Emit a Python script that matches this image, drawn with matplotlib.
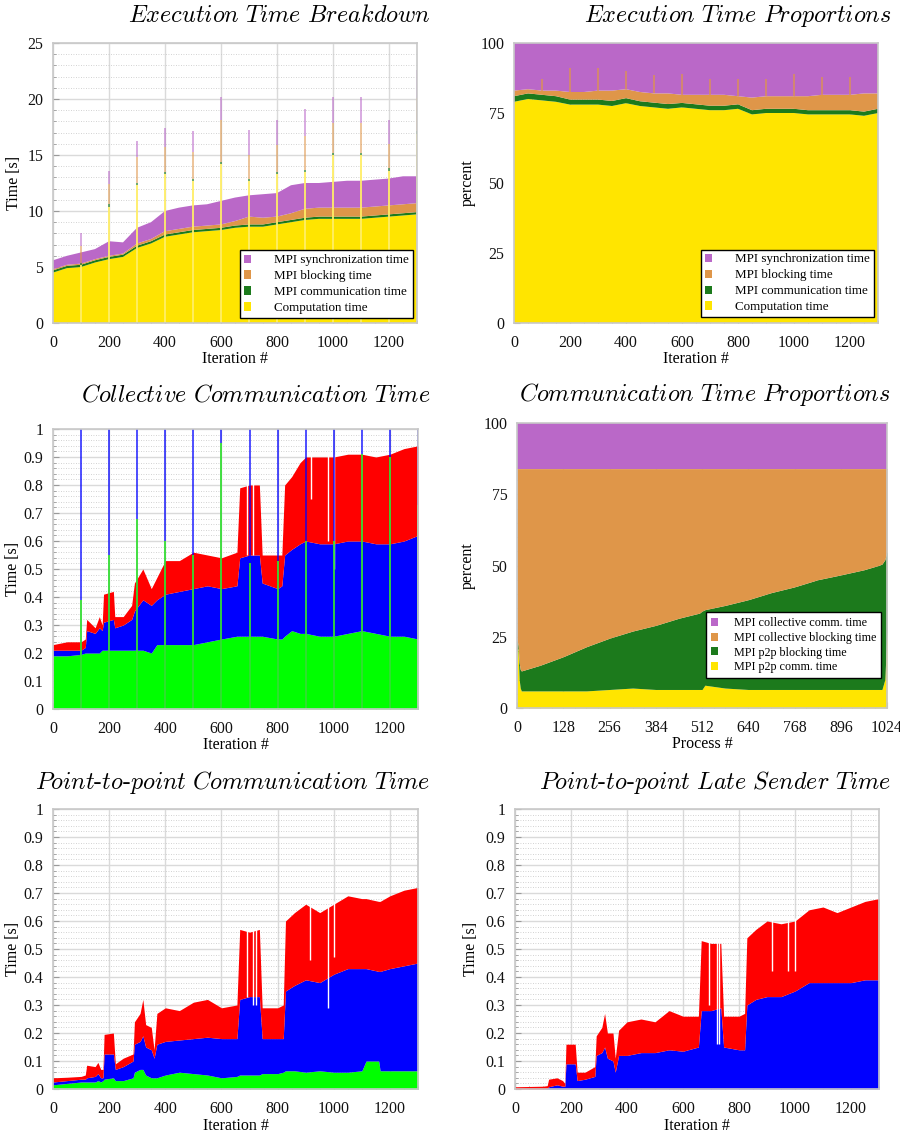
import numpy as np
import matplotlib
matplotlib.use("Agg")
import matplotlib.pyplot as plt
from matplotlib.patches import Patch
from matplotlib.ticker import MultipleLocator, FormatStrFormatter

plt.rcParams['font.family'] = ['Liberation Serif', 'DejaVu Serif']
plt.rcParams['mathtext.fontset'] = 'cm'

# ---------------- data ----------------
# Execution time breakdown (seconds), sampled every 50 iterations
exec_iter = [0, 50, 100, 150, 200, 250, 300, 350, 400, 450, 500, 550, 600, 650,
             700, 750, 800, 850, 900, 950, 1000, 1050, 1100, 1150, 1200, 1250, 1300]
exec_comp = [4.5, 4.9, 5.0, 5.4, 5.7, 5.9, 6.7, 7.1, 7.7, 7.9, 8.1, 8.2, 8.3, 8.5,
             8.6, 8.6, 8.8, 9.0, 9.2, 9.3, 9.3, 9.3, 9.3, 9.4, 9.5, 9.6, 9.7]
exec_comm = [0.2, 0.2, 0.2, 0.2, 0.2, 0.2, 0.2, 0.2, 0.2, 0.2, 0.2, 0.2, 0.2, 0.2,
             0.2, 0.2, 0.2, 0.2, 0.2, 0.2, 0.2, 0.2, 0.2, 0.2, 0.2, 0.2, 0.2]
exec_block = [0.1, 0.1, 0.1, 0.1, 0.1, 0.1, 0.2, 0.2, 0.3, 0.3, 0.3, 0.3, 0.3, 0.4,
              0.7, 0.6, 0.5, 0.6, 0.8, 0.8, 0.8, 0.8, 0.8, 0.8, 0.8, 0.8, 0.8]
exec_sync = [0.8, 0.8, 1.0, 0.9, 1.3, 1.0, 1.4, 1.5, 1.8, 1.9, 1.9, 1.9, 2.1, 2.1,
             1.9, 2.1, 2.1, 2.5, 2.3, 2.2, 2.3, 2.4, 2.4, 2.4, 2.4, 2.5, 2.4]

# slow iterations every 100 steps
spike_iter = [100, 200, 300, 400, 500, 600, 700, 800, 900, 1000, 1100, 1200, 1300]
spike_comp = [5.2, 10.4, 12.3, 13.3, 12.7, 14.2, 12.7, 13.3, 13.5, 15.0, 15.0, 13.6, 16.9]
spike_comm = [0.2, 0.2, 0.2, 0.2, 0.2, 0.2, 0.2, 0.2, 0.2, 0.2, 0.2, 0.2, 0.2]
spike_block = [1.5, 1.8, 2.3, 2.2, 2.4, 3.7, 2.1, 2.4, 3.0, 2.7, 2.7, 2.2, 3.0]
spike_sync = [1.1, 1.2, 1.45, 1.7, 1.8, 2.1, 2.2, 2.2, 2.4, 2.3, 2.3, 2.1, 2.5]

# Execution time proportions (percent)
prop_comp = [79, 80, 79.5, 79, 78, 78, 78, 77.5, 78.5, 77.5, 77, 76.5, 77, 76.5,
             76, 76, 76.5, 74.5, 75, 75, 75, 74.5, 74.5, 74.5, 74.5, 74, 75]
prop_comm = [2.0, 2.0, 2.0, 2.0, 1.8, 1.8, 1.8, 1.8, 1.8, 1.7, 1.7, 1.7, 1.6, 1.6,
             1.6, 1.6, 1.6, 1.5, 1.5, 1.5, 1.5, 1.5, 1.5, 1.5, 1.5, 1.5, 1.5]
prop_block = [2.0, 1.5, 1.5, 2.0, 2.7, 2.7, 3.2, 3.7, 3.2, 3.3, 3.3, 3.8, 2.9, 3.4,
              3.9, 3.9, 2.9, 4.5, 4.5, 4.5, 4.5, 5.0, 5.5, 5.5, 5.5, 6.5, 5.5]
prop_sync = [17, 16.5, 17, 17, 17.5, 17.5, 17, 17, 16.5, 17.5, 18, 18, 18.5, 18.5,
             18.5, 18.5, 19, 19.5, 19, 19, 19, 19, 18.5, 18.5, 18.5, 18, 18]
prop_spike_top = [87, 91, 91, 90, 88.5, 89, 87, 87, 87, 89, 88, 88, 89]

# Collective communication time (upper edge of each layer, seconds)
coll_iter = [0, 50, 100, 115, 120, 150, 165, 175, 180, 215, 220, 250, 280, 290, 320,
             350, 370, 400, 450, 500, 550, 600, 655, 665, 700, 735, 745, 800, 815, 825,
             850, 880, 900, 950, 1000, 1050, 1100, 1150, 1200, 1250, 1300]
coll_green = [0.19, 0.19, 0.195, 0.20, 0.20, 0.20, 0.20, 0.21, 0.21, 0.21, 0.21, 0.21,
              0.21, 0.21, 0.21, 0.20, 0.23, 0.23, 0.23, 0.23, 0.24, 0.25, 0.26, 0.26,
              0.26, 0.26, 0.26, 0.25, 0.25, 0.26, 0.28, 0.27, 0.27, 0.26, 0.26, 0.27,
              0.28, 0.27, 0.26, 0.26, 0.25]
coll_blue = [0.21, 0.21, 0.21, 0.22, 0.28, 0.27, 0.29, 0.28, 0.31, 0.32, 0.29, 0.30,
             0.32, 0.35, 0.39, 0.37, 0.39, 0.41, 0.42, 0.43, 0.44, 0.43, 0.44, 0.54,
             0.55, 0.55, 0.45, 0.43, 0.44, 0.55, 0.57, 0.59, 0.60, 0.59, 0.59, 0.60,
             0.60, 0.59, 0.59, 0.60, 0.62]
coll_red = [0.23, 0.24, 0.24, 0.25, 0.32, 0.29, 0.33, 0.30, 0.41, 0.42, 0.33, 0.33,
            0.37, 0.45, 0.50, 0.43, 0.47, 0.53, 0.53, 0.56, 0.55, 0.54, 0.56, 0.79,
            0.80, 0.80, 0.55, 0.55, 0.55, 0.80, 0.83, 0.88, 0.90, 0.90, 0.90, 0.91,
            0.91, 0.90, 0.91, 0.93, 0.94]
coll_spike_green = [0.39, 0.55, 0.68, 0.60, 0.55, 0.95, 0.52, 0.53, 0.60, 0.60, 0.91, 0.90, 0.73]
# single iterations that fall well below their neighbours
coll_dip_iter = [692, 712, 920, 980, 1000]
coll_dip_value = [0.55, 0.55, 0.75, 0.60, 0.50]

# Communication time proportions per process (upper edge of each layer, percent)
proc_id = [0, 3, 6, 9, 12, 64, 128, 192, 256, 320, 384, 448, 505, 512, 520, 576,
           640, 704, 768, 832, 896, 960, 1000, 1010, 1018, 1024]
proc_p2p_comm = [20, 21, 10, 7, 6, 6, 6, 6, 6.5, 7, 6.5, 6.5, 6.5, 6.5, 8, 7,
                 6.5, 6.5, 6.5, 6.5, 6.5, 6.5, 6.5, 6.5, 10, 27]
proc_p2p_block = [24, 22, 16, 13.5, 13, 15, 18, 21.5, 24.5, 27, 29, 31.5, 33.3, 34,
                  34.5, 36, 38, 40.5, 42.5, 45, 46.7, 48.5, 50, 50.5, 52, 55]
proc_coll_block = [84, 84, 84, 84, 84, 84, 84, 84, 84, 84, 84, 84, 84, 84,
                   84, 84, 84, 84, 84, 84, 84, 84, 84, 84, 84, 84]

# Point-to-point communication time (upper edges, seconds)
p2p_iter = [0, 50, 100, 115, 120, 150, 160, 170, 178, 182, 215, 222, 250, 285, 290,
            310, 320, 330, 350, 360, 370, 400, 450, 500, 550, 600, 655, 665, 700,
            735, 745, 800, 820, 828, 860, 900, 950, 1000, 1050, 1100, 1115, 1160,
            1165, 1200, 1250, 1300]
p2p_green = [0.015, 0.020, 0.025, 0.025, 0.025, 0.025, 0.030, 0.025, 0.030, 0.035,
             0.040, 0.030, 0.030, 0.040, 0.060, 0.070, 0.070, 0.050, 0.040, 0.040,
             0.040, 0.050, 0.060, 0.055, 0.050, 0.040, 0.045, 0.050, 0.050, 0.050,
             0.055, 0.055, 0.060, 0.065, 0.065, 0.060, 0.065, 0.060, 0.060, 0.065,
             0.100, 0.100, 0.065, 0.065, 0.065, 0.065]
p2p_blue = [0.025, 0.030, 0.035, 0.035, 0.040, 0.045, 0.055, 0.040, 0.040, 0.125,
            0.125, 0.070, 0.080, 0.100, 0.160, 0.170, 0.190, 0.150, 0.140, 0.110,
            0.160, 0.170, 0.175, 0.180, 0.185, 0.180, 0.180, 0.320, 0.330, 0.330,
            0.180, 0.180, 0.180, 0.350, 0.370, 0.390, 0.380, 0.410, 0.430, 0.430,
            0.430, 0.420, 0.420, 0.430, 0.440, 0.450]
p2p_red = [0.040, 0.042, 0.045, 0.050, 0.085, 0.080, 0.095, 0.070, 0.070, 0.195,
           0.200, 0.090, 0.110, 0.125, 0.240, 0.270, 0.320, 0.230, 0.220, 0.140,
           0.270, 0.290, 0.280, 0.310, 0.320, 0.290, 0.300, 0.570, 0.560, 0.570,
           0.290, 0.290, 0.300, 0.600, 0.630, 0.660, 0.630, 0.660, 0.690, 0.680,
           0.680, 0.670, 0.670, 0.690, 0.710, 0.720]
p2p_dip_iter = [692, 712, 722, 916, 979, 1000]
p2p_dip_value = [0.33, 0.30, 0.30, 0.46, 0.29, 0.47]

# Point-to-point late sender time (upper edges, seconds)
ls_iter = [0, 100, 115, 120, 150, 170, 178, 182, 215, 222, 250, 285, 290, 310, 320,
           330, 350, 358, 370, 400, 450, 500, 550, 600, 655, 665, 700, 735, 745, 800,
           820, 828, 860, 900, 950, 1000, 1050, 1100, 1150, 1200, 1250, 1300]
ls_blue = [0.000, 0.000, 0.002, 0.008, 0.015, 0.010, 0.010, 0.090, 0.090, 0.030,
           0.035, 0.045, 0.120, 0.130, 0.150, 0.110, 0.100, 0.060, 0.120, 0.120,
           0.130, 0.130, 0.140, 0.135, 0.150, 0.280, 0.280, 0.290, 0.150, 0.140,
           0.140, 0.300, 0.320, 0.330, 0.330, 0.350, 0.380, 0.380, 0.380, 0.380,
           0.390, 0.390]
ls_red = [0.008, 0.010, 0.012, 0.035, 0.040, 0.030, 0.020, 0.160, 0.160, 0.060,
          0.060, 0.080, 0.190, 0.220, 0.270, 0.200, 0.200, 0.110, 0.210, 0.240,
          0.250, 0.240, 0.280, 0.260, 0.260, 0.530, 0.520, 0.520, 0.260, 0.260,
          0.270, 0.540, 0.570, 0.600, 0.590, 0.600, 0.640, 0.650, 0.630, 0.650,
          0.670, 0.680]
ls_dip_iter = [693, 720, 729, 919, 975, 999]
ls_dip_value = [0.30, 0.16, 0.16, 0.42, 0.42, 0.42]

# ---------------- styling ----------------
YELLOW = '#ffe500'
DGREEN = '#1c7a1c'
ORANGE = '#df9649'
PURPLE = '#ba68c8'
RED = '#ff0000'
BLUE = '#0000ff'
GREEN = '#00ff00'
LABEL_SIZE = 11.5


def style_axes(ax, xmax, xmajor, xminor, ymax, ymajor, yminor, yfmt=None):
    ax.set_xlim(0, xmax)
    ax.set_ylim(0, ymax)
    ax.xaxis.set_major_locator(MultipleLocator(xmajor))
    ax.xaxis.set_minor_locator(MultipleLocator(xminor))
    ax.yaxis.set_major_locator(MultipleLocator(ymajor))
    ax.yaxis.set_minor_locator(MultipleLocator(yminor))
    if yfmt:
        ax.yaxis.set_major_formatter(FormatStrFormatter(yfmt))
    ax.set_axisbelow(True)
    ax.grid(True, which='major', color='#dadada', lw=1.0)
    ax.grid(True, which='minor', axis='y', color='#c4c4c4', lw=0.6, ls=(0, (1, 2)))
    for s in ax.spines.values():
        s.set_color('#c8c8c8')
        s.set_linewidth(1.2)
    ax.tick_params(which='both', direction='in', color='#9a9a9a', labelsize=11.4,
                   labelcolor='#111111')
    ax.tick_params(axis='x', which='both', pad=8.5)
    ax.tick_params(axis='y', which='both', pad=7)
    ax.tick_params(which='major', length=4)
    ax.tick_params(which='minor', length=2.5)


def add_legend(ax, labels, colors, anchor, size, textpad, spacing, pad):
    handles = [Patch(facecolor=c, edgecolor='none') for c in colors]
    leg = ax.legend(handles, labels, loc='lower right', bbox_to_anchor=anchor,
                    borderaxespad=0, fontsize=size, handlelength=0.6, handleheight=0.6,
                    handletextpad=textpad, labelspacing=spacing, fancybox=False,
                    framealpha=1, edgecolor='black', borderpad=pad)
    leg.get_frame().set_linewidth(1.0)


def draw_dips(ax, x, top, dip_x, dip_v):
    # iterations whose total is far below the neighbouring ones
    ax.vlines(dip_x, dip_v, np.interp(dip_x, x, top) + 0.01, color='white', lw=1.0)


def title(x, y, text):
    fig.text(x / 900, 1 - y / 1135, text, ha='right', va='center', fontsize=17.4)


fig = plt.figure(figsize=(9, 11.35), dpi=100)

# ---- Execution Time Breakdown ----
ax1 = fig.add_axes([53 / 900, 1 - 323 / 1135, 364 / 900, 280 / 1135])
ax1.stackplot(exec_iter, exec_comp, exec_comm, exec_block, exec_sync,
              colors=[YELLOW, DGREEN, ORANGE, PURPLE], lw=0)
b0 = np.array(spike_comp)
b1 = b0 + np.array(spike_comm)
b2 = b1 + np.array(spike_block)
b3 = b2 + np.array(spike_sync)
ax1.vlines(spike_iter, 0, b0, color='#ffee66', lw=1.3)
ax1.vlines(spike_iter, b0, b1, color=DGREEN, lw=1.3, alpha=0.7)
ax1.vlines(spike_iter, b1, b2, color=ORANGE, lw=1.3, alpha=0.6)
ax1.vlines(spike_iter, b2, b3, color=PURPLE, lw=1.3, alpha=0.6)
style_axes(ax1, 1300, 200, 50, 25, 5, 1)
ax1.set_ylabel('Time [s]', fontsize=LABEL_SIZE)
ax1.set_xlabel('Iteration #', fontsize=LABEL_SIZE)
ax1.yaxis.set_label_coords(-0.085, 0.5)
ax1.xaxis.set_label_coords(0.5, -0.10)
exec_labels = ['MPI synchronization time', 'MPI blocking time',
               'MPI communication time', 'Computation time']
add_legend(ax1, exec_labels, [PURPLE, ORANGE, DGREEN, YELLOW], (0.989, 0.018),
           9.4, 1.75, 0.3, 0.3)
title(430, 16, r'$\mathit{Execution\ Time\ Breakdown}$')

# ---- Execution Time Proportions ----
ax2 = fig.add_axes([514 / 900, 1 - 323 / 1135, 364 / 900, 280 / 1135])
ax2.stackplot(exec_iter, prop_comp, prop_comm, prop_block, prop_sync,
              colors=[YELLOW, DGREEN, ORANGE, PURPLE], lw=0)
orange_top = np.array(prop_comp) + np.array(prop_comm) + np.array(prop_block)
spike_base = np.interp(spike_iter, exec_iter, orange_top)
ax2.vlines(spike_iter, spike_base, prop_spike_top, color=ORANGE, lw=1.2, alpha=0.8)
style_axes(ax2, 1300, 200, 50, 100, 25, 5)
ax2.set_ylabel('percent', fontsize=LABEL_SIZE)
ax2.set_xlabel('Iteration #', fontsize=LABEL_SIZE)
ax2.yaxis.set_label_coords(-0.104, 0.5)
ax2.xaxis.set_label_coords(0.5, -0.10)
add_legend(ax2, exec_labels, [PURPLE, ORANGE, DGREEN, YELLOW], (0.989, 0.021),
           9.4, 1.75, 0.3, 0.3)
title(891, 16, r'$\mathit{Execution\ Time\ Proportions}$')

# ---- Collective Communication Time ----
ax3 = fig.add_axes([53 / 900, 1 - 709 / 1135, 365 / 900, 280 / 1135])
ax3.fill_between(coll_iter, 0, coll_green, color=GREEN, lw=0)
ax3.fill_between(coll_iter, coll_green, coll_blue, color=BLUE, lw=0)
ax3.fill_between(coll_iter, coll_blue, coll_red, color=RED, lw=0)
draw_dips(ax3, coll_iter, coll_red, coll_dip_iter, coll_dip_value)
ax3.vlines(spike_iter, 0, coll_spike_green, color='#33dd33', lw=1.3)
ax3.vlines(spike_iter, coll_spike_green, 1, color=BLUE, lw=1.3, alpha=0.75)
style_axes(ax3, 1300, 200, 50, 1, 0.1, 0.02, '%g')
ax3.set_ylabel('Time [s]', fontsize=LABEL_SIZE)
ax3.set_xlabel('Iteration #', fontsize=LABEL_SIZE)
ax3.yaxis.set_label_coords(-0.088, 0.5)
ax3.xaxis.set_label_coords(0.5, -0.10)
title(430, 395, r'$\mathit{Collective\ Communication\ Time}$')

# ---- Communication Time Proportions ----
ax4 = fig.add_axes([517 / 900, 1 - 708 / 1135, 370 / 900, 285 / 1135])
ax4.fill_between(proc_id, 0, proc_p2p_comm, color=YELLOW, lw=0)
ax4.fill_between(proc_id, proc_p2p_comm, proc_p2p_block, color=DGREEN, lw=0)
ax4.fill_between(proc_id, proc_p2p_block, proc_coll_block, color=ORANGE, lw=0)
ax4.fill_between(proc_id, proc_coll_block, 100, color=PURPLE, lw=0)
style_axes(ax4, 1024, 128, 32, 100, 25, 5)
ax4.set_ylabel('percent', fontsize=LABEL_SIZE)
ax4.set_xlabel('Process #', fontsize=LABEL_SIZE)
ax4.yaxis.set_label_coords(-0.111, 0.5)
ax4.xaxis.set_label_coords(0.5, -0.10)
add_legend(ax4, ['MPI collective comm. time', 'MPI collective blocking time',
                 'MPI p2p blocking time', 'MPI p2p comm. time'],
           [PURPLE, ORANGE, DGREEN, YELLOW], (0.984, 0.105), 8.7, 1.3, 0.22, 0.4)
title(891, 395, r'$\mathit{Communication\ Time\ Proportions}$')

# ---- Point-to-point Communication Time ----
ax5 = fig.add_axes([53 / 900, 1 - 1089 / 1135, 365 / 900, 280 / 1135])
ax5.fill_between(p2p_iter, 0, p2p_green, color=GREEN, lw=0)
ax5.fill_between(p2p_iter, p2p_green, p2p_blue, color=BLUE, lw=0)
ax5.fill_between(p2p_iter, p2p_blue, p2p_red, color=RED, lw=0)
draw_dips(ax5, p2p_iter, p2p_red, p2p_dip_iter, p2p_dip_value)
style_axes(ax5, 1300, 200, 50, 1, 0.1, 0.02, '%g')
ax5.set_ylabel('Time [s]', fontsize=LABEL_SIZE)
ax5.set_xlabel('Iteration #', fontsize=LABEL_SIZE)
ax5.yaxis.set_label_coords(-0.088, 0.5)
ax5.xaxis.set_label_coords(0.5, -0.105)
title(430, 782, r'$\mathit{Point\text{-}to\text{-}point\ Communication\ Time}$')

# ---- Point-to-point Late Sender Time ----
ax6 = fig.add_axes([515 / 900, 1 - 1089 / 1135, 364 / 900, 280 / 1135])
ax6.fill_between(ls_iter, 0, ls_blue, color=BLUE, lw=0)
ax6.fill_between(ls_iter, ls_blue, ls_red, color=RED, lw=0)
draw_dips(ax6, ls_iter, ls_red, ls_dip_iter, ls_dip_value)
style_axes(ax6, 1300, 200, 50, 1, 0.1, 0.02, '%g')
ax6.set_ylabel('Time [s]', fontsize=LABEL_SIZE)
ax6.set_xlabel('Iteration #', fontsize=LABEL_SIZE)
ax6.yaxis.set_label_coords(-0.099, 0.5)
ax6.xaxis.set_label_coords(0.5, -0.105)
title(891, 782, r'$\mathit{Point\text{-}to\text{-}point\ Late\ Sender\ Time}$')

fig.savefig('out.png', dpi=100)
